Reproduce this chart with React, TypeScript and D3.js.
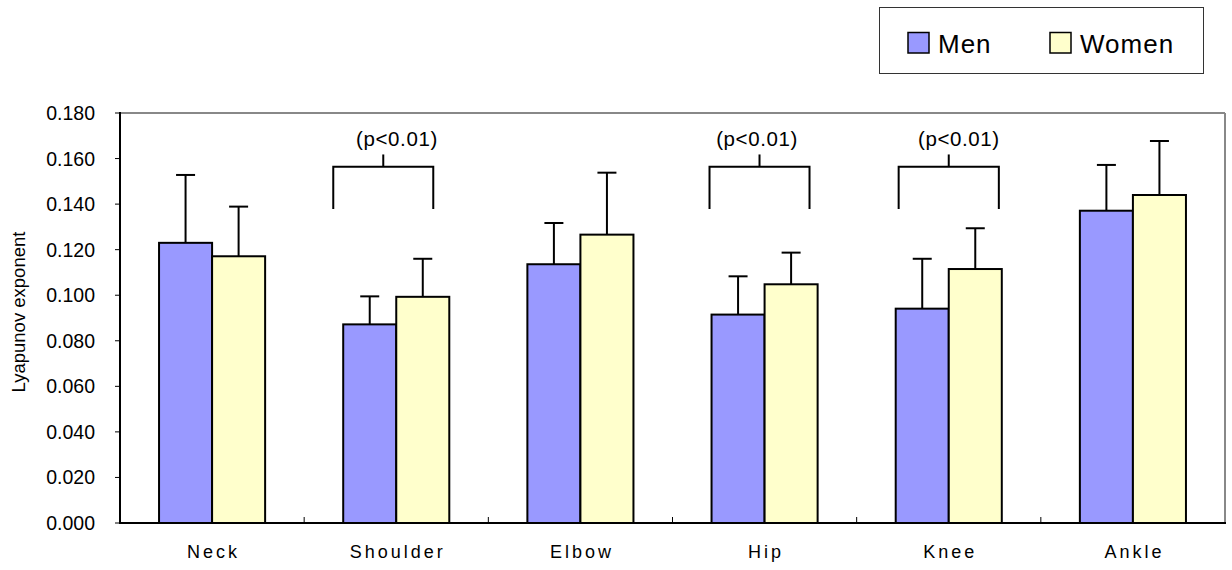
import React from "react";
import * as d3 from "d3";

const categories = ["Neck", "Shoulder", "Elbow", "Hip", "Knee", "Ankle"];
const seriesNames = ["Men", "Women"];
const menValues = [0.123, 0.0872, 0.1136, 0.0915, 0.0941, 0.1371];
const menErrors = [0.0298, 0.0123, 0.0181, 0.0168, 0.0219, 0.0201];
const womenValues = [0.1171, 0.0993, 0.1266, 0.1048, 0.1115, 0.144];
const womenErrors = [0.0218, 0.0167, 0.0272, 0.0139, 0.0179, 0.0237];
const yTicks = [0, 0.02, 0.04, 0.06, 0.08, 0.1, 0.12, 0.14, 0.16, 0.18];
const sigCategories = ["Shoulder", "Hip", "Knee"];
const sigLabel = "(p<0.01)";
// bracket extents as fraction of the category band, relative to its center
const sigLeft = [-0.342, -0.299, -0.272];
const sigRight = [0.201, 0.244, 0.272];
const sigTextDx = [0.004, -0.041, 0.055];
const sigBracketTop = 0.1564;
const sigBracketBottom = 0.1378;
const sigTickTop = 0.1618;
const sigTextY = 0.1655;

const COLORS = ["#9999FF", "#FFFFCC"];
const FONT = "'Liberation Sans', Arial, sans-serif";

export default function App() {
  const W = 1232, H = 570;
  const left = 120, right = 1225, top = 113, bottom = 523;
  const x = d3.scaleBand<string>().domain(categories).range([left, right]).paddingInner(0).paddingOuter(0);
  const y = d3.scaleLinear().domain([0, 0.18]).range([bottom, top]);
  const band = x.bandwidth();
  const bw = band * 0.288;
  const capHalf = 9.5;
  const series = [
    { vals: menValues, errs: menErrors },
    { vals: womenValues, errs: womenErrors },
  ];

  return (
    <svg width={W} height={H} style={{ position: "absolute", left: 0, top: 0, background: "#fff" }} fontFamily={FONT}>
      <rect x={0} y={0} width={W} height={H} fill="#fff" />
      {/* plot frame top/right */}
      <line x1={left} x2={right} y1={top} y2={top} stroke="#888" strokeWidth={2} />
      <line x1={right} x2={right} y1={top} y2={bottom} stroke="#888" strokeWidth={2} />
      {/* y ticks */}
      {yTicks.map((t) => (
        <g key={t}>
          <line x1={left - 5} x2={left} y1={y(t)} y2={y(t)} stroke="#000" strokeWidth={1} />
          <text x={95} y={y(t) + 7} textAnchor="end" fontSize={19.5} fill="#000">
            {d3.format(".3f")(t)}
          </text>
        </g>
      ))}
      <text
        transform={`translate(25,${(top + bottom) / 2 - 6}) rotate(-90)`}
        textAnchor="middle"
        fontSize={18.5}
        fill="#000"
      >
        Lyapunov exponent
      </text>
      {/* category ticks */}
      {categories.slice(1).map((c) => (
        <line key={c} x1={x(c)!} x2={x(c)!} y1={bottom - 6} y2={bottom} stroke="#000" strokeWidth={1} />
      ))}
      {/* bars */}
      {categories.map((c, i) => {
        const cx = x(c)! + band / 2;
        return (
          <g key={c}>
            {series.map((s, k) => {
              const bx = cx - bw + k * bw;
              const v = s.vals[i];
              const e = s.vals[i] + s.errs[i];
              const mx = bx + bw / 2;
              return (
                <g key={k}>
                  <line x1={mx} x2={mx} y1={y(v)} y2={y(e)} stroke="#000" strokeWidth={2} />
                  <line x1={mx - capHalf} x2={mx + capHalf} y1={y(e)} y2={y(e)} stroke="#000" strokeWidth={2} />
                  <rect x={bx} y={y(v)} width={bw} height={y(0) - y(v)} fill={COLORS[k]} stroke="#000" strokeWidth={2} />
                </g>
              );
            })}
            <text x={cx + 1.5} y={558} textAnchor="middle" fontSize={18} letterSpacing={3} fill="#000">
              {c}
            </text>
          </g>
        );
      })}
      {/* axes */}
      <line x1={left} x2={left} y1={top - 1} y2={bottom + 1} stroke="#000" strokeWidth={2} />
      <line x1={left - 1} x2={right + 1} y1={bottom} y2={bottom} stroke="#000" strokeWidth={2} />
      {/* significance brackets */}
      {sigCategories.map((c, i) => {
        const cx = x(c)! + band / 2;
        const l = cx + sigLeft[i] * band;
        const r = cx + sigRight[i] * band;
        const m = (l + r) / 2;
        return (
          <g key={c}>
            <path
              d={`M${l},${y(sigBracketBottom)}V${y(sigBracketTop)}H${r}V${y(sigBracketBottom)}`}
              fill="none"
              stroke="#000"
              strokeWidth={2}
            />
            <line x1={m} x2={m} y1={y(sigBracketTop)} y2={y(sigTickTop)} stroke="#000" strokeWidth={2} />
            <text x={cx + sigTextDx[i] * band} y={y(sigTextY)} textAnchor="middle" fontSize={20.5} letterSpacing={0.6} fill="#000">
              {sigLabel}
            </text>
          </g>
        );
      })}
      {/* legend */}
      <rect x={879.5} y={7.5} width={324} height={66} fill="#fff" stroke="#333" strokeWidth={1} />
      {seriesNames.map((n, k) => {
        const sx = k === 0 ? 908 : 1050;
        return (
          <g key={n}>
            <rect x={sx} y={32.5} width={21} height={20.5} fill={COLORS[k]} stroke="#000" strokeWidth={1.5} />
            <text x={sx + 30} y={53} fontSize={26} letterSpacing={1} fill="#000">
              {n}
            </text>
          </g>
        );
      })}
    </svg>
  );
}
